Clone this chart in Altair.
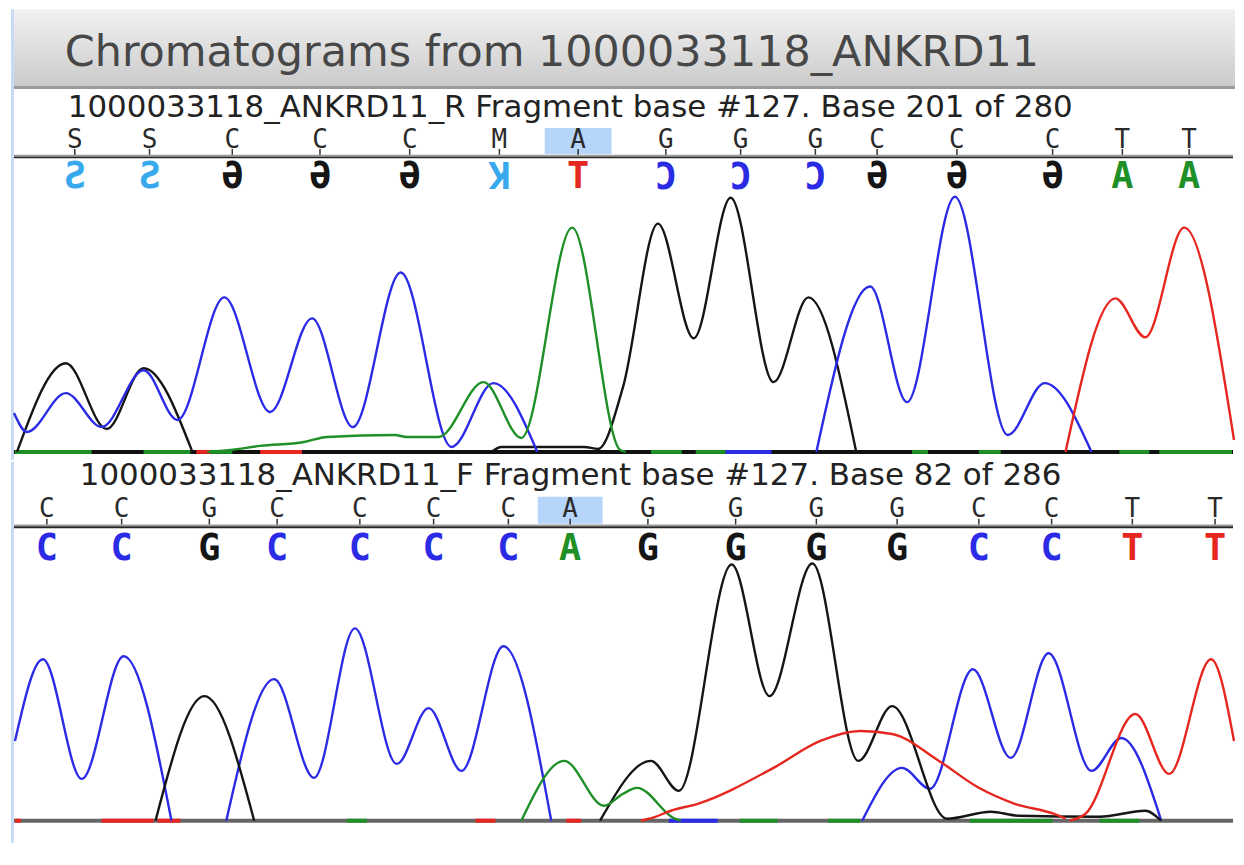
import altair as alt
import pandas as pd

# ---------------- text ----------------
TITLE = "Chromatograms from 1000033118_ANKRD11"
HEADER_R = "1000033118_ANKRD11_R Fragment base #127. Base 201 of 280"
HEADER_F = "1000033118_ANKRD11_F Fragment base #127. Base 82 of 286"

# ---------------- base calls ----------------
# reverse read (scan positions of each call, consensus call, complemented read shown mirrored)
R_POS = [72, 147, 230, 318, 408, 498, 577, 665, 740, 815, 877, 957, 1053, 1123, 1190]
R_CALLS = ["S", "S", "C", "C", "C", "M", "A", "G", "G", "G", "C", "C", "C", "T", "T"]
R_READ = ["S", "S", "G", "G", "G", "K", "T", "C", "C", "C", "G", "G", "G", "A", "A"]
R_HIGHLIGHT = 6
# forward read
F_POS = [44, 119, 207, 275, 358, 432, 507, 569, 647, 735, 816, 897, 979, 1052, 1133, 1216]
F_CALLS = ["C", "C", "G", "C", "C", "C", "C", "A", "G", "G", "G", "G", "C", "C", "T", "T"]
F_READ = ["C", "C", "G", "C", "C", "C", "C", "A", "G", "G", "G", "G", "C", "C", "T", "T"]
F_HIGHLIGHT = 7

# ---------------- traces (scan, signal) ----------------
R_BLACK_1 = [(14, 0), (63, 89), (104, 23), (141, 84), (190, 0)]
R_BLACK_2 = [(490, 0), (500, 5), (583, 5), (597, 3), (622, 65), (657, 229), (693, 114),
             (730, 255), (773, 70), (808, 155), (856, 0)]
R_BLUE_1 = [(11, 39), (24, 20), (63, 59), (99, 25), (141, 82), (175, 32), (222, 155),
            (268, 40), (310, 134), (351, 25), (399, 180), (450, 5), (492, 69), (536, 0)]
R_BLUE_2 = [(816, 0), (870, 166), (907, 50), (955, 256), (1008, 17), (1045, 69), (1092, 0)]
R_GREEN_1 = [(205, 0), (228, 2), (258, 6), (302, 10), (325, 15), (393, 17), (405, 15),
             (437, 15), (482, 70), (520, 14), (571, 225), (619, 2), (625, 0)]
R_RED_1 = [(1066, 0), (1116, 154), (1146, 115), (1185, 225), (1235, 12)]

F_BLUE_1 = [(12, 80), (40, 162), (79, 42), (121, 165), (169, 0)]
F_BLUE_2 = [(224, 0), (272, 142), (312, 43), (353, 193), (395, 57), (427, 113), (460, 50),
            (502, 175), (550, 0)]
F_BLUE_3 = [(862, 0), (902, 53), (930, 32), (973, 152), (1011, 63), (1049, 168), (1092, 50),
            (1122, 83), (1162, 0)]
F_BLACK_1 = [(153, 0), (202, 125), (252, 0)]
F_BLACK_2 = [(599, 0), (650, 60), (678, 30), (731, 257), (769, 125), (812, 258), (858, 60),
             (892, 115), (947, 2), (991, 9), (1019, 5), (1100, 4), (1146, 10), (1162, 0)]
F_GREEN_1 = [(520, 0), (563, 60), (603, 15), (622, 27), (636, 33), (674, 2), (680, 0)]
F_RED_1 = [(640, 0), (652, 3), (670, 10), (697, 17), (773, 53), (820, 80), (860, 90),
           (892, 87), (939, 60), (979, 33), (1015, 17), (1054, 7), (1066, 2)]
F_RED_2 = [(1070, 0), (1086, 7), (1136, 107), (1170, 47), (1212, 162), (1235, 80)]

# coloured pieces of the baseline (base, from, to)
R_BASE_SEGS = [("A", 12, 89), ("A", 141, 188), ("T", 194, 208), ("A", 208, 230), ("T", 258, 300),
               ("A", 650, 681), ("A", 695, 725), ("C", 725, 771), ("A", 912, 928),
               ("A", 979, 1001), ("A", 1120, 1150), ("A", 1160, 1233)]
F_BASE_SEGS = [("T", 12, 18), ("T", 99, 151), ("T", 155, 178), ("A", 345, 365), ("T", 474, 494),
               ("T", 565, 580), ("C", 668, 717), ("A", 739, 777), ("A", 828, 860),
               ("A", 970, 1053), ("A", 1100, 1140)]

# ---------------- styling ----------------
W = 1225
BG = "#c7dbf2"
COLOR_SCALE = alt.Scale(domain=["A", "C", "G", "T", "S", "K"],
                        range=["#1f8f28", "#2b2be6", "#151515", "#e6271f", "#37a9ec", "#37a9ec"])
X_SCALE = alt.Scale(domain=[11, 1236], nice=False, zero=False)
MIRROR_GLYPH = {"S": "Ƨ", "G": "Ә", "C": "C", "K": "K", "T": "T", "A": "A"}
MIRROR_ANGLE = {"S": 0, "G": 0, "C": 180, "K": 180, "T": 0, "A": 0}


def trace_frame(segments):
    rows = []
    for sid, (base, pts) in enumerate(segments):
        for x, v in pts:
            rows.append({"base": base, "seg": sid, "x": x, "v": v})
    return pd.DataFrame(rows)


def side_strip(height):
    return alt.Chart(pd.DataFrame({"k": [0]})).mark_rect(color=BG).encode(
        x=alt.value(-3), x2=alt.value(0), y=alt.value(0), y2=alt.value(height))


def hrule(y, color, width):
    return alt.Chart(pd.DataFrame({"k": [0]})).mark_rule(color=color, strokeWidth=width).encode(
        x=alt.value(0), x2=alt.value(W - 2), y=y)


def panel(height, ydom, header, header_x, header_y, pos, calls, read, mirrored, hl,
          row_y, tick_y, line_y, letter_y, hl_top, hl_bot, hl_w, traces, segs, base_color):
    ys = alt.Scale(domain=ydom, nice=False, zero=False)
    X = alt.X("x:Q", scale=X_SCALE, axis=None)

    head = alt.Chart(pd.DataFrame({"t": [header]})).mark_text(
        align="left", baseline="middle", font="DejaVu Sans", fontSize=31, color="#222222"
    ).encode(text="t:N", x=alt.value(header_x), y=alt.value(header_y))

    calls_df = pd.DataFrame({"x": pos, "call": calls})
    hl_df = pd.DataFrame({"x": [pos[hl]]})
    box = alt.Chart(hl_df).mark_rect(width=hl_w, color="#b5d5fb").encode(
        x=X, y=alt.value(hl_top), y2=alt.value(hl_bot))
    row = alt.Chart(calls_df).mark_text(
        baseline="middle", font="DejaVu Sans Mono", fontSize=26, color="#2a2a2a"
    ).encode(x=X, y=alt.value(row_y), text="call:N")
    ticks = alt.Chart(calls_df).mark_rule(color="#333333", strokeWidth=1.5).encode(
        x=X, y=alt.value(tick_y[0]), y2=alt.value(tick_y[1]))
    line1 = hrule(alt.value(line_y - 1.5), "#9a9a9a", 1.5)
    line2 = hrule(alt.value(line_y + 0.5), "#262626", 2)

    if mirrored:
        glyph = [MIRROR_GLYPH[b] for b in read]
        ang = [MIRROR_ANGLE[b] for b in read]
    else:
        glyph = list(read)
        ang = [0] * len(read)
    read_df = pd.DataFrame({"x": pos, "base": read, "g": glyph, "ang": ang})
    up_df = read_df[read_df["ang"] == 0]
    rot_df = read_df[read_df["ang"] != 0]
    layers_letters = []
    for df, yy in ((up_df, letter_y), (rot_df, letter_y - 4)):
        if len(df):
            layers_letters.append(alt.Chart(df).mark_text(
                baseline="middle", font="DejaVu Sans Mono", fontWeight="bold", fontSize=37
            ).encode(x=X, y=alt.value(yy), text="g:N",
                     color=alt.Color("base:N", scale=COLOR_SCALE, legend=None),
                     angle=alt.Angle("ang:Q", scale=None)))

    base_line = hrule(alt.Y(datum=0, scale=ys, axis=None), base_color, 4)
    seg_df = pd.DataFrame(segs, columns=["base", "x", "x2"])
    seg_rules = alt.Chart(seg_df).mark_rule(strokeWidth=4).encode(
        x=X, x2="x2:Q", y=alt.Y(datum=0, scale=ys, axis=None),
        color=alt.Color("base:N", scale=COLOR_SCALE, legend=None))

    tr = alt.Chart(trace_frame(traces)).mark_line(
        interpolate="monotone", strokeWidth=2.4, strokeJoin="round"
    ).encode(x=X, y=alt.Y("v:Q", scale=ys, axis=None),
             color=alt.Color("base:N", scale=COLOR_SCALE, legend=None),
             detail="seg:N")

    return alt.layer(side_strip(height), box, head, row, ticks, line1, line2, *layers_letters,
                     base_line, seg_rules, tr).properties(width=W, height=height)


# ---------------- title bar ----------------
grad = alt.LinearGradient(
    gradient="linear", x1=0, x2=0, y1=0, y2=1,
    stops=[alt.GradientStop(color="#f1f1f1", offset=0),
           alt.GradientStop(color="#e0e0e0", offset=0.45),
           alt.GradientStop(color="#c9c9c9", offset=1)])
tdf = pd.DataFrame({"t": [TITLE]})
title_bg = alt.Chart(tdf).mark_rect(fill=grad).encode(
    x=alt.value(0), x2=alt.value(W), y=alt.value(0), y2=alt.value(80))
title_line = alt.Chart(tdf).mark_rect(color="#9b9b9b").encode(
    x=alt.value(0), x2=alt.value(W), y=alt.value(77), y2=alt.value(80))
title_txt = alt.Chart(tdf).mark_text(
    align="left", baseline="alphabetic", font="DejaVu Sans", fontSize=43, color="#474747"
).encode(text="t:N", x=alt.value(51), y=alt.value(57))
title_view = alt.layer(side_strip(80), title_bg, title_line, title_txt).properties(
    width=W, height=80)

top = panel(372, [-8, 364], HEADER_R, 54, 19, R_POS, R_CALLS, R_READ, True, R_HIGHLIGHT,
            51, (60, 66), 68, 88, 39, 65, 67,
            [("G", R_BLACK_1), ("G", R_BLACK_2), ("C", R_BLUE_1), ("C", R_BLUE_2),
             ("A", R_GREEN_1), ("T", R_RED_1)],
            R_BASE_SEGS, "#111111")

bottom = panel(382, [-22, 360], HEADER_F, 66, 14, F_POS, F_CALLS, F_READ, False, F_HIGHLIGHT,
               47, (57, 63), 65, 87, 35, 62, 65,
               [("C", F_BLUE_1), ("C", F_BLUE_2), ("C", F_BLUE_3), ("G", F_BLACK_1),
                ("G", F_BLACK_2), ("A", F_GREEN_1), ("T", F_RED_1), ("T", F_RED_2)],
               F_BASE_SEGS, "#666666")

chart = alt.vconcat(title_view, top, bottom, spacing=0).properties(
    padding={"left": 3, "top": 0, "right": 0, "bottom": 0},
    background="white",
).configure_view(strokeWidth=0, fill="white").configure_concat(spacing=0)

chart.save("out.html", embed_options={"renderer": "svg", "actions": False})
